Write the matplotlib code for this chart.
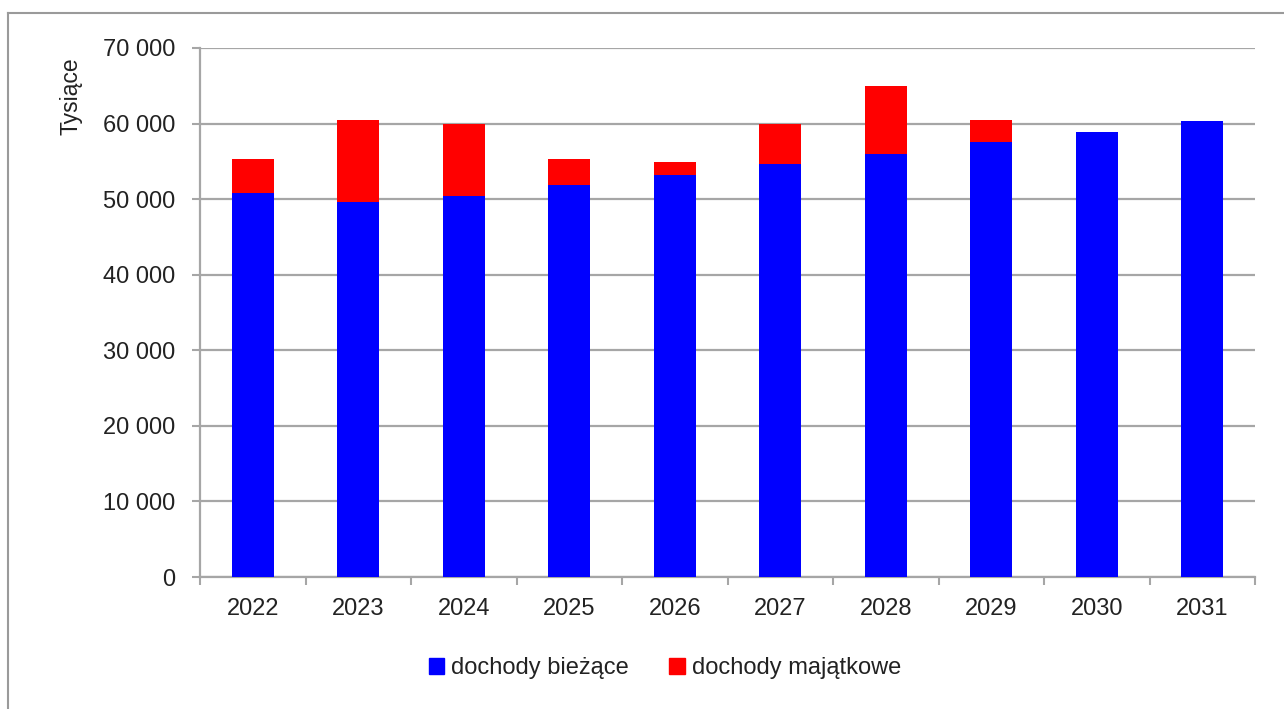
import matplotlib
matplotlib.use("Agg")
import matplotlib.pyplot as plt
from matplotlib.patches import Patch
import numpy as np

years = ["2022", "2023", "2024", "2025", "2026", "2027", "2028", "2029", "2030", "2031"]
biezace = [50800, 49600, 50400, 51900, 53200, 54700, 55950, 57500, 58900, 60300]
majatkowe = [4450, 10900, 9500, 3350, 1650, 5200, 9000, 3000, 0, 0]
yticks = [0, 10000, 20000, 30000, 40000, 50000, 60000, 70000]
ytick_labels = ["0", "10 000", "20 000", "30 000", "40 000", "50 000", "60 000", "70 000"]

plt.rcParams['font.family'] = ['Liberation Sans', 'DejaVu Sans']

W, H = 1284, 709
FS = 17
fig = plt.figure(figsize=(W / 100, H / 100), dpi=100)
ax = fig.add_axes([200 / W, 1 - 577 / H, 1055 / W, (577 - 48) / H])

x = np.arange(len(years))
ax.bar(x, biezace, width=0.4, color='#0000ff', zorder=3)
ax.bar(x, majatkowe, width=0.4, bottom=biezace, color='#ff0000', zorder=3)

ax.set_xlim(-0.5, len(years) - 0.5)
ax.set_ylim(0, 70000)
ax.set_yticks(yticks)
ax.set_yticklabels(ytick_labels)
ax.yaxis.grid(True, color='#a6a6a6', linewidth=1.6, zorder=0)
ax.set_axisbelow(True)

ax.set_xticks(x)
ax.set_xticklabels(years)
ax.set_xticks(np.arange(len(years) + 1) - 0.5, minor=True)
ax.tick_params(axis='x', which='major', length=0, pad=15, labelsize=FS, colors='#222222')
ax.tick_params(axis='x', which='minor', length=6, width=1.5, color='#a6a6a6')
ax.tick_params(axis='y', length=6, width=1.5, color='#a6a6a6', pad=11.5, labelsize=FS, labelcolor='#222222')

for s in ['top', 'right']:
    ax.spines[s].set_visible(False)
for s in ['left', 'bottom']:
    ax.spines[s].set_color('#a6a6a6')
    ax.spines[s].set_linewidth(1.6)

fig.text(71 / W, 1 - 57 / H, "Tysiące", rotation=90, ha='center', va='top',
         fontsize=16.5, color='#222222')

handles = [Patch(color='#0000ff', label='dochody bieżące'),
           Patch(color='#ff0000', label='dochody majątkowe')]
fig.legend(handles=handles, loc='center', bbox_to_anchor=(665 / W, 1 - 668 / H),
           ncol=2, frameon=False, fontsize=FS, handlelength=0.65, handleheight=0.65,
           handletextpad=0.3, columnspacing=1.7, labelcolor='#222222')

# outer frame lines (left and top)
fig.add_artist(plt.Line2D([8 / W, 8 / W], [0, 1 - 13 / H], transform=fig.transFigure,
                          color='#9a9a9a', linewidth=1.5))
fig.add_artist(plt.Line2D([8 / W, 1], [1 - 13 / H, 1 - 13 / H], transform=fig.transFigure,
                          color='#9a9a9a', linewidth=1.5))

fig.savefig("out.png", dpi=100)
